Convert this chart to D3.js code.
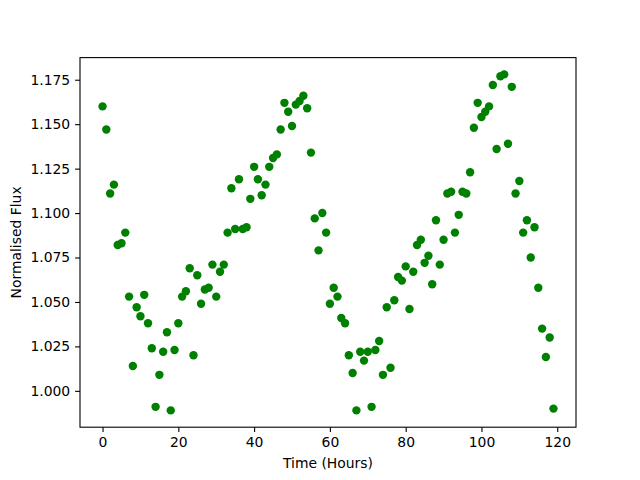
<!DOCTYPE html>
<html>
<head>
<meta charset="utf-8">
<script src="https://cdn.jsdelivr.net/npm/d3@7"></script>
<style>
  body { margin: 0; background: #fff; }
  svg { display: block; }
  text { font-family: "DejaVu Sans", sans-serif; }
</style>
</head>
<body>
<svg id="chart" width="640" height="480"></svg>
<script>
const hours = d3.range(0, 120);
const flux = [
  1.160, 1.147, 1.111, 1.116, 1.082, 1.083, 1.089, 1.053, 1.014, 1.047,
  1.042, 1.054, 1.038, 1.024, 0.991, 1.009, 1.022, 1.033, 0.989, 1.023,
  1.038, 1.053, 1.056, 1.069, 1.020, 1.065, 1.049, 1.057, 1.058, 1.071,
  1.053, 1.067, 1.071, 1.089, 1.114, 1.091, 1.119, 1.091, 1.092, 1.108,
  1.126, 1.119, 1.110, 1.116, 1.126, 1.131, 1.133, 1.147, 1.162, 1.157,
  1.149, 1.161, 1.163, 1.166, 1.159, 1.134, 1.097, 1.079, 1.100, 1.089,
  1.049, 1.058, 1.053, 1.041, 1.038, 1.020, 1.010, 0.989, 1.022, 1.017,
  1.022, 0.991, 1.023, 1.028, 1.009, 1.047, 1.013, 1.051, 1.064, 1.062,
  1.070, 1.046, 1.067, 1.082, 1.085, 1.072, 1.076, 1.060, 1.096, 1.071,
  1.085, 1.111, 1.112, 1.089, 1.099, 1.112, 1.111, 1.123, 1.148, 1.162,
  1.154, 1.157, 1.160, 1.172, 1.136, 1.177, 1.178, 1.139, 1.171, 1.111,
  1.118, 1.089, 1.096, 1.075, 1.092, 1.058, 1.035, 1.019, 1.030, 0.990
];
const xTicks = [0, 20, 40, 60, 80, 100, 120];
const yTicks = [1.000, 1.025, 1.050, 1.075, 1.100, 1.125, 1.150, 1.175];
const xLabel = "Time (Hours)";
const yLabel = "Normalised Flux";

const data = hours.map((h, i) => ({ x: h, y: flux[i] }));

const W = 640, H = 480;
const m = { left: 80, right: 576, top: 57.6, bottom: 427.2 };

const xmin = d3.min(hours), xmax = d3.max(hours);
const xpad = (xmax - xmin) * 0.05;
const ymin = d3.min(flux), ymax = d3.max(flux);
const ypad = (ymax - ymin) * 0.05;

const x = d3.scaleLinear().domain([xmin - xpad, xmax + xpad]).range([m.left, m.right]);
const y = d3.scaleLinear().domain([ymin - ypad, ymax + ypad]).range([m.bottom, m.top]);

const svg = d3.select("#chart");
svg.append("rect").attr("width", W).attr("height", H).attr("fill", "#fff");

// points
svg.append("g").selectAll("circle").data(data).enter().append("circle")
  .attr("cx", d => x(d.x)).attr("cy", d => y(d.y)).attr("r", 4.2)
  .attr("fill", "#008000");

const fontPx = 13.9;
// axes
const xAxis = d3.axisBottom(x).tickValues(xTicks).tickFormat(d3.format("d")).tickSizeOuter(0).tickSize(4.9).tickPadding(4.9);
const gx = svg.append("g").attr("transform", `translate(0,${m.bottom})`).call(xAxis);
const yAxis = d3.axisLeft(y).tickValues(yTicks).tickFormat(d3.format(".3f")).tickSizeOuter(0).tickSize(4.9).tickPadding(4.9);
const gy = svg.append("g").attr("transform", `translate(${m.left},0)`).call(yAxis);
[gx, gy].forEach(g => {
  g.select(".domain").remove();
  g.selectAll("line").attr("stroke", "#000").attr("stroke-width", 1.1);
  g.selectAll("text").attr("fill", "#000").style("font-size", fontPx + "px").style("font-family", "DejaVu Sans");
});

// frame
svg.append("rect").attr("x", m.left).attr("y", m.top)
  .attr("width", m.right - m.left).attr("height", m.bottom - m.top)
  .attr("fill", "none").attr("stroke", "#000").attr("stroke-width", 1.1);

svg.append("text").attr("x", (m.left + m.right) / 2).attr("y", 468)
  .attr("text-anchor", "middle").style("font-size", fontPx + "px").text(xLabel);
svg.append("text").attr("transform", `translate(21,${(m.top + m.bottom) / 2}) rotate(-90)`)
  .attr("text-anchor", "middle").style("font-size", fontPx + "px").text(yLabel);
</script>
</body>
</html>
